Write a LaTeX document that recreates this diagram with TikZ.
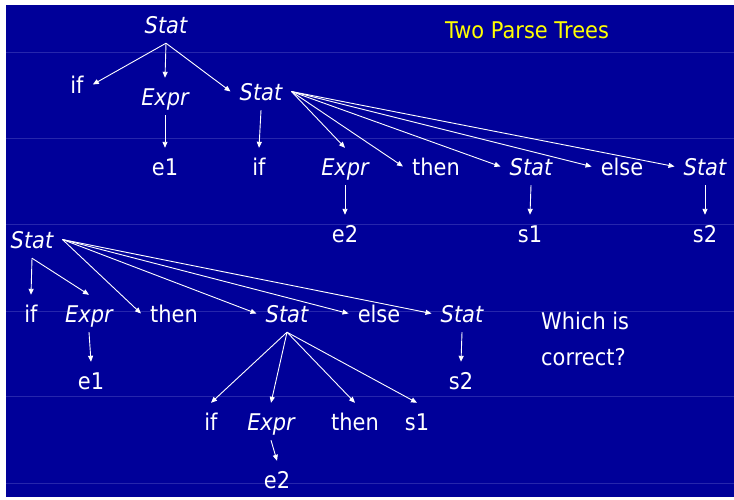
\documentclass[tikz,border=0pt]{standalone}
\usepackage{fontspec}
\setmainfont{DejaVu Sans}[FakeStretch=0.91]
\usepackage{xcolor}
\usetikzlibrary{arrows.meta}
\definecolor{slideblue}{RGB}{0,0,153}
\definecolor{ruleblue}{RGB}{38,38,172}
\definecolor{titleyellow}{RGB}{255,255,0}

\begin{document}
\begin{tikzpicture}[x=1pt, y=-1pt,
  lbl/.style={text=white, font=\fontsize{23}{27}\selectfont, inner xsep=9pt, inner ysep=10pt, text height=17pt, text depth=0pt},
  nt/.style={lbl, font=\fontsize{23}{27}\selectfont\itshape},
  arr/.style={-{Triangle[length=6pt,width=5pt]}, white, line width=0.9pt}
]
\useasboundingbox (0,0) rectangle (734,499);
\fill[white] (0,0) rectangle (734,499);
\fill[slideblue] (6,5) rectangle (734,497);
\foreach \y in {52,138,224,311,396,483}{\draw[ruleblue, line width=1pt] (6,\y) -- (734,\y);}
\node[text=titleyellow, font=\fontsize{23}{27}\selectfont, anchor=base] (title) at (527,38) {Two Parse Trees};
\node[text=white, font=\fontsize{23}{36}\selectfont, align=left, anchor=base west, inner sep=0pt] (question) at (541,365) {Which is\\correct?};
\node[nt]  (root1) at (166,24.5)  {Stat};
\node[lbl] (if1)   at (77,84.5)   {if};
\node[nt]  (expr1) at (165,96.5)  {Expr};
\node[nt]  (stat1) at (261,91.5)  {Stat};
\node[lbl] (e1)    at (165,166.5) {e1};
\node[lbl] (if2)   at (259,166.5) {if};
\node[nt]  (expr2) at (345,166.5) {Expr};
\node[lbl] (then1) at (436,166.5) {then};
\node[nt]  (stat2) at (531,166.5) {Stat};
\node[lbl] (else1) at (622,166.5) {else};
\node[nt]  (stat3) at (705,166.5) {Stat};
\node[lbl] (e2)    at (345,233.5) {e2};
\node[lbl] (s1)    at (530,233.5) {s1};
\node[lbl] (s2)    at (705,233.5) {s2};
\node[nt]  (root2) at (32,239.5)  {Stat};
\node[lbl] (if3)   at (31,313.5)  {if};
\node[nt]  (expr3) at (89,313.5)  {Expr};
\node[lbl] (then2) at (174,313.5) {then};
\node[nt]  (stat4) at (287,313.5) {Stat};
\node[lbl] (else2) at (379,313.5) {else};
\node[nt]  (stat5) at (462,313.5) {Stat};
\node[lbl] (e1b)   at (91,380.5)  {e1};
\node[lbl] (s2b)   at (461,380.5) {s2};
\node[lbl] (if4)   at (211,421.5) {if};
\node[nt]  (expr4) at (271,421.5) {Expr};
\node[lbl] (then3) at (355,421.5) {then};
\node[lbl] (s1b)   at (417,421.5) {s1};
\node[lbl] (e2b)   at (277,479.5) {e2};
\draw[arr] (root1.south) -- (if1.east);
\draw[arr] (root1.south) -- (expr1.north);
\draw[arr] (root1.south) -- (stat1.west);
\draw[arr] (expr1.south) -- (e1.north);
\draw[arr] (stat1.south) -- (if2.north);
\foreach \c in {expr2.north,then1.west,stat2.west,else1.west,stat3.west}{\draw[arr] (stat1.east) -- (\c);}
\draw[arr] (expr2.south) -- (e2.north);
\draw[arr] (stat2.south) -- (s1.north);
\draw[arr] (stat3.south) -- (s2.north);
\draw[arr] (root2.south) -- (if3.north);
\draw[arr] (root2.south) -- (expr3.north);
\foreach \c in {then2,stat4,else2,stat5}{\draw[arr] (root2.east) -- (\c.west);}
\draw[arr] (expr3.south) -- (e1b.north);
\draw[arr] (stat5.south) -- (s2b.north);
\foreach \c in {if4,expr4,then3,s1b}{\draw[arr] (stat4.south) -- (\c.north);}
\draw[arr] (expr4.south) -- (e2b.north);
\end{tikzpicture}
\end{document}
